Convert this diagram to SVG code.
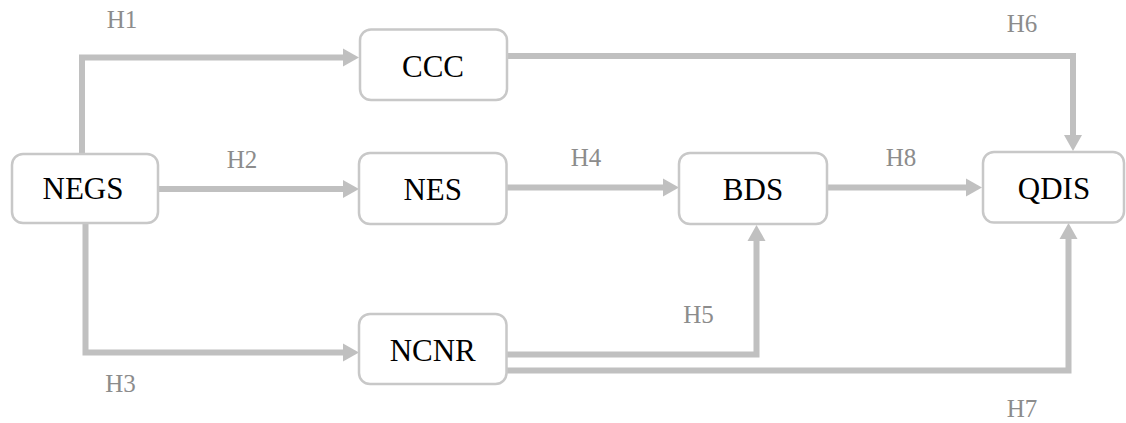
<svg xmlns="http://www.w3.org/2000/svg" width="1126" height="423" viewBox="0 0 1126 423">
<style>
.box{fill:#fff;stroke:#c8c8c8;stroke-width:2.5}
.nt{font-family:'Liberation Serif','Times New Roman',serif;font-size:31px;fill:#000;text-anchor:middle}
.lb{font-family:'Liberation Serif','Times New Roman',serif;font-size:25px;fill:#8c8c8c;text-anchor:middle}
.cn{fill:none;stroke:#c0c0c0;stroke-width:6;marker-end:url(#ah)}
</style>
<defs>
<marker id="ah" markerUnits="userSpaceOnUse" markerWidth="16" markerHeight="18" refX="0" refY="9" orient="auto" overflow="visible">
<path d="M0,0 L16,9 L0,18 Z" fill="#c0c0c0"/>
</marker>
</defs>
<rect width="1126" height="423" fill="#fff"/>
<g id="connectors">
<path class="cn" d="M82,154 V57.5 H343"/>
<path class="cn" d="M158,189 H343"/>
<path class="cn" d="M85.5,223 V352.5 H343"/>
<path class="cn" d="M507,187.5 H663"/>
<path class="cn" d="M827,187.5 H966"/>
<path class="cn" d="M507,56 H1073 V135"/>
<path class="cn" d="M506,354.5 H756.5 V241"/>
<path class="cn" d="M506,370.5 H1068.5 V239"/>
</g>
<g id="labels">
<text class="lb" x="122" y="28">H1</text>
<text class="lb" x="242" y="168">H2</text>
<text class="lb" x="120.5" y="392">H3</text>
<text class="lb" x="586" y="166">H4</text>
<text class="lb" x="698.5" y="322.5">H5</text>
<text class="lb" x="1022" y="32">H6</text>
<text class="lb" x="1022" y="417">H7</text>
<text class="lb" x="901" y="166">H8</text>
</g>
<g id="NEGS"><rect class="box" x="12" y="154" width="146" height="69" rx="11"/><text class="nt" x="83" y="199">NEGS</text></g>
<g id="CCC"><rect class="box" x="360" y="29.5" width="147" height="70.5" rx="11"/><text class="nt" x="433" y="77">CCC</text></g>
<g id="NES"><rect class="box" x="359" y="153" width="147.5" height="71" rx="11"/><text class="nt" x="432.75" y="200">NES</text></g>
<g id="BDS"><rect class="box" x="679" y="153" width="148" height="71" rx="11"/><text class="nt" x="753" y="200">BDS</text></g>
<g id="QDIS"><rect class="box" x="983" y="152" width="141" height="70.5" rx="11"/><text class="nt" x="1054" y="199">QDIS</text></g>
<g id="NCNR"><rect class="box" x="359" y="314" width="147.5" height="70" rx="11"/><text class="nt" x="432.75" y="361">NCNR</text></g>
</svg>
